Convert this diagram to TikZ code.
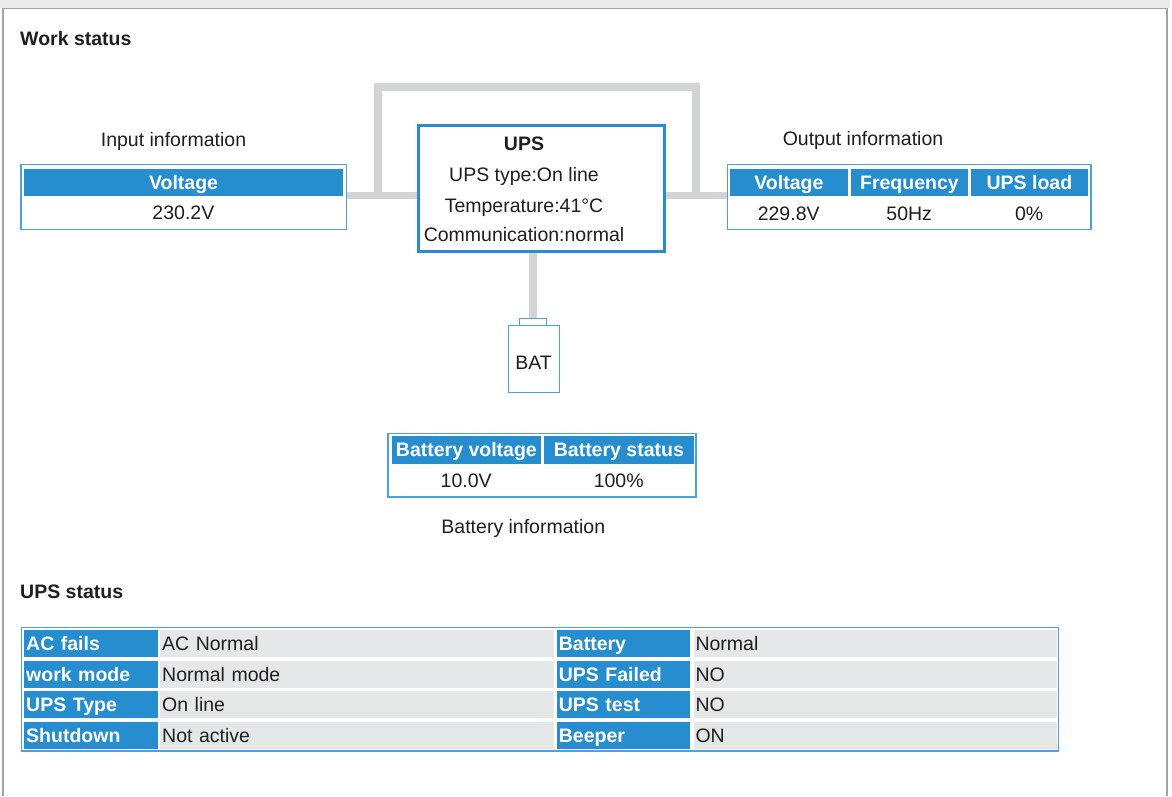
\documentclass[tikz,border=0pt]{standalone}
\usepackage{fontspec}
\setmainfont{Liberation Sans}
\definecolor{hblue}{HTML}{268ECE}
\definecolor{bblue}{HTML}{4AA3DF}
\definecolor{ublue}{HTML}{2B8CCB}
\definecolor{cgray}{HTML}{E6E7E9}
\definecolor{lgray}{HTML}{D3D4D6}
\definecolor{fgray}{HTML}{A3A3A3}
\definecolor{bandgray}{HTML}{EBEBEB}
\definecolor{tcol}{HTML}{1E1E1E}
\newcommand{\myfs}{\fontsize{19.5}{23}\selectfont}
\pgfdeclarelayer{bg}
\pgfsetlayers{bg,main}
\tikzset{
  txt/.style={inner sep=0pt, font=\myfs, text=tcol, text height=14pt, text depth=0pt},
  btxt/.style={txt, font=\myfs\bfseries},
  obox/.style={draw=bblue, line width=1.3pt, fill=white, inner sep=0pt},
  upsbox/.style={draw=ublue, line width=3pt, fill=white, inner sep=0pt},
  hcell/.style={fill=hblue, text=white, font=\myfs\bfseries, inner sep=0pt, text height=14pt, text depth=0pt, anchor=north west},
  conn/.style={draw=lgray, line width=7.6pt, line join=miter},
  batbox/.style={draw=bblue, line width=1pt, fill=white, inner sep=0pt, anchor=north west},
  stlab/.style={fill=hblue, text=white, font=\myfs\bfseries, inner xsep=2pt, inner ysep=0pt, align=left, text height=14pt, text depth=0pt, minimum height=27pt, anchor=north west},
  stval/.style={fill=cgray, text=tcol, font=\myfs, inner xsep=2pt, inner ysep=0pt, align=left, text height=14pt, text depth=0pt, minimum height=27pt, anchor=north west}
}
\begin{document}
\begin{tikzpicture}[x=1pt,y=-1pt]
\useasboundingbox (0,0) rectangle (1172,796);
% frame
\fill[bandgray] (0,0) rectangle (1170,8);
\draw[fgray, line width=1.4pt] (3,796) -- (3,8.7) -- (1167,8.7) -- (1167,796);

\node[btxt, anchor=west] (ws) at (20,38) {Work status};

% input
\node[txt] (inlab) at (173.5,139.7) {Input information};
\node[obox, minimum width=325.3pt, minimum height=64.8pt] (inbox) at (183.7,197.2) {};
\node[hcell, minimum width=318.7pt, minimum height=27.4pt] (inh) at (24,168.3) {Voltage};
\node[txt] (inv) at (183.4,212.8) {230.2V};

% UPS
\node[upsbox, minimum width=246.3pt, minimum height=126.3pt] (ups) at (541.3,188.6) {};
\node[btxt] (upst) at (524,143.3) {UPS};
\node[txt] (upsa) at (524,174.7) {UPS type:On line};
\node[txt] (upsb) at (524,205) {Temperature:41°C};
\node[txt] (upsc) at (524,234.7) {Communication:normal};

% output
\node[txt] (outlab) at (863,138.8) {Output information};
\node[obox, minimum width=363.7pt, minimum height=64.8pt] (outbox) at (909.2,197.2) {};
\node[hcell, minimum width=117.3pt, minimum height=27.6pt] (oh1) at (730,168.3) {Voltage};
\node[hcell, minimum width=117pt, minimum height=27.6pt] (oh2) at (850.7,168.3) {Frequency};
\node[hcell, minimum width=117pt, minimum height=27.6pt] (oh3) at (970.7,168.3) {UPS load};
\node[txt] (ov1) at (788.7,213.5) {229.8V};
\node[txt] (ov2) at (909.2,213.5) {50Hz};
\node[txt] (ov3) at (1029.2,213.5) {0\%};

% battery symbol
\node[batbox, minimum width=26.7pt, minimum height=7pt] (batcap) at (519,318) {};
\node[batbox, minimum width=50.7pt, minimum height=66.7pt] (batbody) at (508.3,325) {};
\node[txt] (batt) at (533.5,362.7) {BAT};

% battery info
\node[obox, minimum width=308pt, minimum height=63.7pt] (batinfo) at (542,465.2) {};
\node[hcell, minimum width=149pt, minimum height=27.6pt] (bh1) at (391.7,435.7) {Battery voltage};
\node[hcell, minimum width=149.3pt, minimum height=27.6pt] (bh2) at (544,435.7) {Battery status};
\node[txt] (bv1) at (466.2,480) {10.0V};
\node[txt] (bv2) at (618.7,480) {100\%};
\node[txt] (binf) at (523.3,526.3) {Battery information};

% connectors
\coordinate (jl) at (378,195.5);
\coordinate (jr) at (696,195.5);
\begin{pgfonlayer}{bg}
\draw[conn] (inbox.east |- jl) -- (ups.west |- jl);
\draw[conn] (ups.east |- jr) -- (outbox.west |- jr);
\draw[conn] (jl) -- ++(0,-108.5) -| (jr);
\draw[conn] (ups.south -| batcap.north) -- (batcap.north);
\end{pgfonlayer}

% UPS status
\node[btxt, anchor=west] (us) at (20,591) {UPS status};
\node[obox, minimum width=1037.1pt, minimum height=123.8pt] (stbox) at (539.85,689.2) {};
\foreach \r/\y/\la/\va/\lb/\vb in {1/630/AC fails/AC Normal/Battery/Normal,
  2/660.5/work mode/Normal mode/UPS Failed/NO,
  3/691/UPS Type/On line/UPS test/NO,
  4/721.5/Shutdown/Not active/Beeper/ON}{
  \node[stlab, text width=129.3pt] (la\r) at (24,\y) {\la};
  \node[stval, text width=389.3pt] (va\r) at (160,\y) {\va};
  \node[stlab, text width=129.3pt] (lb\r) at (556.7,\y) {\lb};
  \node[stval, text width=359.4pt] (vb\r) at (693.3,\y) {\vb};
}
\end{tikzpicture}
\end{document}
